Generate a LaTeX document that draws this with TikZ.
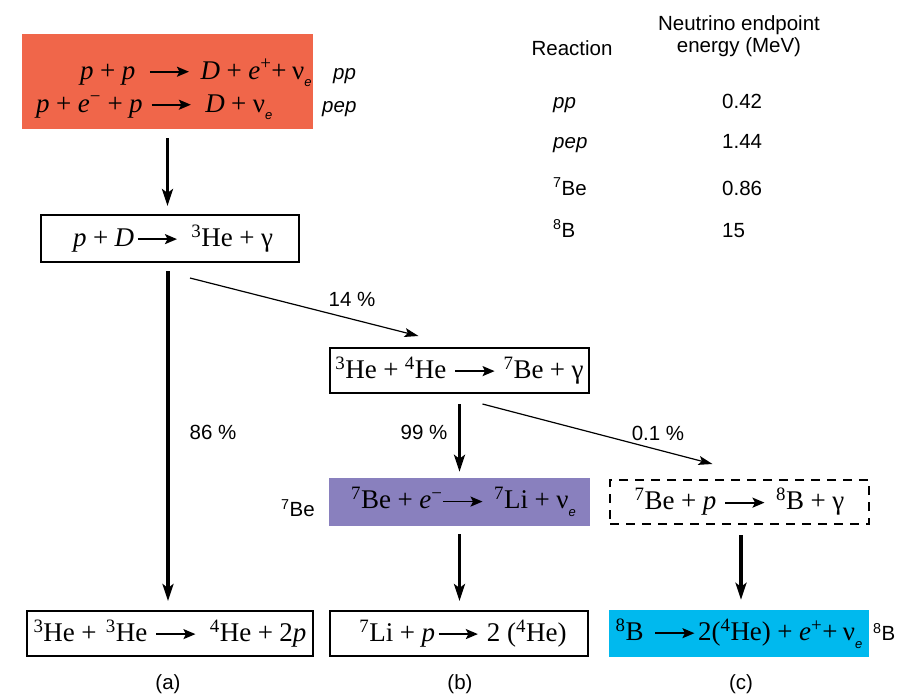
\documentclass[tikz,border=0pt]{standalone}
\usepackage{fontspec}
\setmainfont{Liberation Serif}
\setsansfont{Liberation Sans}
\usetikzlibrary{arrows.meta}
\definecolor{ppred}{RGB}{240,102,74}
\definecolor{bepurple}{RGB}{137,128,190}
\definecolor{bcyan}{RGB}{0,185,238}
\newcommand\rxarrow[1][1.45em]{\tikz[baseline=-0.27em]\draw[line width=1.8pt,-{Stealth[length=12pt,width=10pt,inset=2.5pt]}] (0,0)--(#1,0);}
\newcommand\nue{ν\raisebox{-0.28em}{\sffamily\itshape\fontsize{13}{13}\selectfont e}}
\newcommand\sups[1]{\textsuperscript{#1}}
\newcommand\pl{\hspace{0.24em}+\hspace{0.24em}}
\begin{document}
\begin{tikzpicture}[x=1pt,y=-1pt,
 eqfont/.style={font=\fontsize{27}{30}\selectfont},
 lbl/.style={font=\sffamily\fontsize{20.5}{24}\selectfont},
 lbli/.style={font=\sffamily\itshape\fontsize{20.5}{24}\selectfont},
 rbox/.style={draw, line width=2pt, inner sep=0pt, eqfont},
 bigarr/.style={line width=3.8pt, -{Stealth[length=17pt,width=11pt,inset=4pt]}},
 thinarr/.style={line width=1.2pt, -{Stealth[length=14pt,width=9pt,inset=3pt]}}
]
\useasboundingbox (0,0) rectangle (901,694);

% top box
\node[fill=ppred, minimum width=291pt, minimum height=95pt, inner sep=0] (red) at (167.5,81.5) {};
\node[eqfont, anchor=base west, inner sep=0] (eq1) at (80,79)
 {\textit{p}\pl\textit{p}\hspace{0.5em}\rxarrow\hspace{0.4em}\textit{D}\pl\textit{e}\sups{+}+\hspace{0.2em}\nue};
\node[eqfont, anchor=base west, inner sep=0] (eq2) at (36,112)
 {\textit{p}\pl\textit{e}\sups{−}\pl\textit{p}\hspace{0.3em}\rxarrow\hspace{0.5em}\textit{D}\pl\nue};
\node[lbli, anchor=base west, inner sep=0] (lpp) at (333,79) {pp};
\node[lbli, anchor=base west, inner sep=0] (lpep) at (322,112) {pep};

% table
\node[lbl] (threac) at (572,48) {Reaction};
\node[lbl, align=center, font=\sffamily\fontsize{20.5}{22}\selectfont] (thnu) at (739,36) {Neutrino endpoint\\energy (MeV)};
\node[lbli, anchor=base west, inner sep=0] (r1) at (553,108) {pp};
\node[lbli, anchor=base west, inner sep=0] (r2) at (553,148) {pep};
\node[lbl, anchor=base west, inner sep=0] (r3) at (553,195) {\sups{7}Be};
\node[lbl, anchor=base west, inner sep=0] (r4) at (553,237) {\sups{8}B};
\node[lbl, anchor=base west, inner sep=0] (v1) at (722,108) {0.42};
\node[lbl, anchor=base west, inner sep=0] (v2) at (722,148) {1.44};
\node[lbl, anchor=base west, inner sep=0] (v3) at (722,195) {0.86};
\node[lbl, anchor=base west, inner sep=0] (v4) at (722,237) {15};

% boxes
\node[rbox, minimum width=258pt, minimum height=47pt] (box2) at (170,238.5)
 {\hspace{6pt}\textit{p}\pl\textit{D}\hspace{0.1em}\rxarrow\hspace{0.5em}\sups{3}He\pl γ};
\node[rbox, minimum width=259pt, minimum height=45pt] (box3) at (459.5,370.5)
 {\sups{3}He\pl\sups{4}He\hspace{0.3em}\rxarrow\hspace{0.3em}\sups{7}Be\pl γ};
\node[fill=bepurple, inner sep=0, eqfont, minimum width=261pt, minimum height=48pt] (bepu) at (459.5,502)
 {\hspace{8pt}\sups{7}Be\pl\textit{e}\sups{−}\rxarrow\hspace{0.4em}\sups{7}Li\pl\nue};
\node[rbox, dash pattern=on 9pt off 7pt, minimum width=259pt, minimum height=44pt] (bp) at (739.5,502)
 {\sups{7}Be\pl\textit{p}\hspace{0.3em}\rxarrow\hspace{0.4em}\sups{8}B\pl γ\hspace{12pt}};
\node[rbox, minimum width=286pt, minimum height=45pt] (boxa) at (170,633.5)
 {\sups{3}He\pl\hspace{0.1em}\sups{3}He\hspace{0.3em}\rxarrow\hspace{0.5em}\sups{4}He\pl 2\textit{p}};
\node[rbox, minimum width=258pt, minimum height=45pt] (boxb) at (459,633.5)
 {\hspace{8pt}\sups{7}Li\pl\textit{p}\hspace{0.1em}\rxarrow\hspace{0.3em}2 (\sups{4}He)};
\node[fill=bcyan, inner sep=0, eqfont, minimum width=260pt, minimum height=47pt] (boxc) at (739,633.5)
 {\sups{8}B\hspace{0.4em}\rxarrow\hspace{0.1em}2(\sups{4}He)\pl\textit{e}\sups{+}+\hspace{0.2em}\nue};

% side labels
\node[lbl] (l7be) at (298,508) {\sups{7}Be};
\node[lbl, anchor=west, inner sep=0] (l8b) at (873,632) {\sups{8}B};
\node[lbl] (la) at (168,684) {(a)};
\node[lbl] (lb) at (460,684) {(b)};
\node[lbl] (lc) at (741,684) {(c)};

% connectors
\draw[bigarr, shorten <=9pt, shorten >=8pt] (red.south) -- (red.south |- box2.north);
\draw[bigarr, shorten <=8pt, shorten >=9pt] ([xshift=-2pt]box2.south) -- ([xshift=-2pt]boxa.north);
\draw[thinarr] ([shift={(20,15)}]box2.south) -- ([shift={(-41,-11)}]box3.north);
\draw[bigarr, shorten <=10pt, shorten >=6pt] (box3.south) -- (bepu.north);
\draw[thinarr] ([shift={(23,10)}]box3.south) -- ([shift={(-27,-15)}]bp.north);
\draw[bigarr, shorten <=8pt, shorten >=9pt] (bepu.south) -- (bepu.south |- boxb.north);
\draw[bigarr, shorten <=10pt, shorten >=10pt] ([xshift=1.5pt]bp.south) -- ([xshift=1.5pt]bp.south |- boxc.north);

\node[lbl] (p86) at (213,432) {86 \%};
\node[lbl] (p14) at (352,299) {14 \%};
\node[lbl] (p99) at (424,432) {99 \%};
\node[lbl] (p01) at (658,433) {0.1 \%};
\end{tikzpicture}
\end{document}
